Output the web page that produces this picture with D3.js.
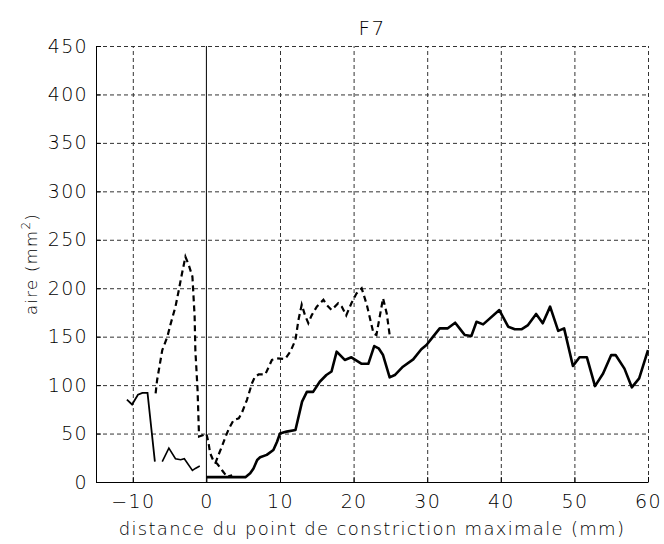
<!DOCTYPE html>
<html>
<head>
<meta charset="utf-8">
<script src="https://cdn.jsdelivr.net/npm/d3@7"></script>
<style>
  body { margin: 0; background: #fff; }
  text { font-family: "DejaVu Sans", sans-serif; font-weight: 200; fill: #000; letter-spacing: 1.3px; }
  .grid line { stroke: #333; stroke-dasharray: 4,3; }
  .grid path { display: none; }
  .axis path, .axis line { stroke: #000; }
</style>
</head>
<body>
<div id="chart"></div>
<script>
// data (x in mm, y in mm2)
const solidLeft = [[-10.8,85],[-10.1,80],[-9.3,90],[-8.7,92],[-8.0,92],[-7.0,21]];
const solidZigzag = [[-6.0,21],[-5.1,35],[-4.2,24],[-3.5,23],[-3.0,24],[-1.9,12],[-1.5,14],[-0.9,16.5]];
const solidMain = [[0,5],[5.0,5],[5.3,5],[5.95,9],[6.4,14],[6.9,22.7],[7.3,25.5],[8.2,28],[9.1,33],[9.6,41.6],
  [10.0,50],[10.9,52],[12.1,53.7],[13.0,83],[13.65,93],[14.5,93],[15.4,103.5],[16.3,110.4],[17.0,114],
  [17.7,134.5],[18.8,126],[19.7,128.7],[21.1,122],[22.0,122],[22.8,140.3],[23.4,138],[24.0,131],
  [24.9,108],[25.6,110.4],[26.7,119],[28.1,126.6],[29.2,137],[29.9,141.4],[30.8,150],[31.7,158.6],
  [32.8,158.6],[33.8,164.4],[34.4,158.6],[35.1,151.7],[36.0,150.7],[36.7,165.4],[37.6,162.7],
  [39.8,177.5],[41.0,160.3],[41.9,157.6],[42.8,157.6],[43.7,162],[44.8,173.4],[45.7,163.8],
  [46.7,181],[47.8,156],[48.6,158.6],[49.8,119.7],[50.7,128.7],[51.7,128.7],[52.8,99],[53.9,112],
  [55.0,131],[55.6,131],[56.8,117],[57.8,97.7],[58.8,107],[60,136]];
const dashedLeft = [[-6.9,91.5],[-6.7,105],[-6.0,136],[-5.3,150],[-4.9,162],[-4.2,181],[-3.75,198],
  [-3.4,212],[-2.85,232.5],[-2.4,224],[-1.9,212],[-1.6,171],[-1.5,136],[-1.2,95],[-1.0,47],
  [-0.4,48.5],[0,50],[0.3,40],[0.5,30],[1.0,21],[1.45,19],[2.1,12.4],[2.8,5.5],[3.5,7]];
const dashedRight = [[1.2,19],[1.65,28],[2.1,36.5],[2.6,46.7],[3.05,55],[3.7,64],[4.4,65.7],[4.8,71],
  [5.5,84.6],[6.2,102],[6.6,108.7],[7.1,111],[8.0,111],[8.9,126],[9.6,127.6],[10.7,127],[11.4,134.5],
  [12.1,146.5],[12.5,167],[12.95,183],[13.4,172],[13.85,164],[14.3,172],[15.0,181],[15.9,188],
  [16.35,182.7],[17.0,177.5],[17.9,184.4],[18.4,181],[19.0,172],[19.7,184.4],[20.4,194.7],[21.1,200],
  [21.8,182.7],[22.7,153.5],[23.1,151.7],[24.0,189.6],[24.5,174],[24.9,151.7]];
const xTicks = [-10,0,10,20,30,40,50,60];
const yTicks = [0,50,100,150,200,250,300,350,400,450];

const width = 664, height = 544;
const margin = { top: 46, right: 16, bottom: 62, left: 96 };

let svg = d3.select('#chart').append('svg')
  .attr('width', width)
  .attr('height', height);

let x = d3.scaleLinear().domain([-15, 60]).range([margin.left, width - margin.right]);
let y = d3.scaleLinear().domain([0, 450]).range([height - margin.bottom, margin.top]);

// grid
svg.append('g').attr('class', 'grid')
  .attr('transform', `translate(0,${height - margin.bottom})`)
  .call(d3.axisBottom(x).tickValues(xTicks.filter(d => d !== 0)).tickSize(-(height - margin.top - margin.bottom)).tickFormat(''));
svg.append('g').attr('class', 'grid')
  .attr('transform', `translate(${margin.left},0)`)
  .call(d3.axisLeft(y).tickValues(yTicks.filter(d => d !== 0)).tickSize(-(width - margin.left - margin.right)).tickFormat(''));

// vertical line at x = 0
svg.append('line')
  .attr('x1', x(0)).attr('x2', x(0))
  .attr('y1', y(0)).attr('y2', y(450))
  .attr('stroke', '#000').attr('stroke-width', 1);

// axes, ticks pointing inward
let xAxis = svg.append('g').attr('class', 'axis')
  .attr('transform', `translate(0,${height - margin.bottom})`)
  .call(d3.axisBottom(x).tickValues(xTicks).tickSizeInner(-5).tickSizeOuter(0).tickPadding(9));
xAxis.selectAll('text').style('font-size', '19px').attr('dy', '0.88em');

let yAxis = svg.append('g').attr('class', 'axis')
  .attr('transform', `translate(${margin.left},0)`)
  .call(d3.axisLeft(y).tickValues(yTicks).tickSizeInner(-5).tickSizeOuter(0).tickPadding(8));
yAxis.selectAll('text').style('font-size', '19px');

let line = d3.line().x(d => x(d[0])).y(d => y(d[1]));

svg.append('path').datum(solidLeft)
  .attr('d', line).attr('fill', 'none').attr('stroke', '#000').attr('stroke-width', 1.8);
svg.append('path').datum(solidZigzag)
  .attr('d', line).attr('fill', 'none').attr('stroke', '#000').attr('stroke-width', 1.6);
svg.append('path').datum(solidMain)
  .attr('d', line).attr('fill', 'none').attr('stroke', '#000').attr('stroke-width', 2.6)
  .attr('stroke-linejoin', 'round');
svg.append('path').datum(dashedLeft)
  .attr('d', line).attr('fill', 'none').attr('stroke', '#000').attr('stroke-width', 2.2)
  .attr('stroke-dasharray', '6,4');
svg.append('path').datum(dashedRight)
  .attr('d', line).attr('fill', 'none').attr('stroke', '#000').attr('stroke-width', 2.2)
  .attr('stroke-dasharray', '6,4');

// title and labels
svg.append('text')
  .attr('x', (margin.left + width - margin.right) / 2)
  .attr('y', 35)
  .attr('text-anchor', 'middle')
  .style('font-size', '20px')
  .text('F7');

svg.append('text')
  .attr('x', (margin.left + width - margin.right) / 2)
  .attr('y', 535)
  .attr('text-anchor', 'middle')
  .style('font-size', '18px')
  .text('distance du point de constriction maximale (mm)');

let ylab = svg.append('text')
  .attr('transform', `translate(37,${(margin.top + height - margin.bottom) / 2}) rotate(-90)`)
  .attr('text-anchor', 'middle')
  .style('font-size', '16.5px');
ylab.append('tspan').text('aire (mm');
ylab.append('tspan').attr('dy', -7).style('font-size', '12px').text('2');
ylab.append('tspan').attr('dy', 7).text(')');
</script>
</body>
</html>
